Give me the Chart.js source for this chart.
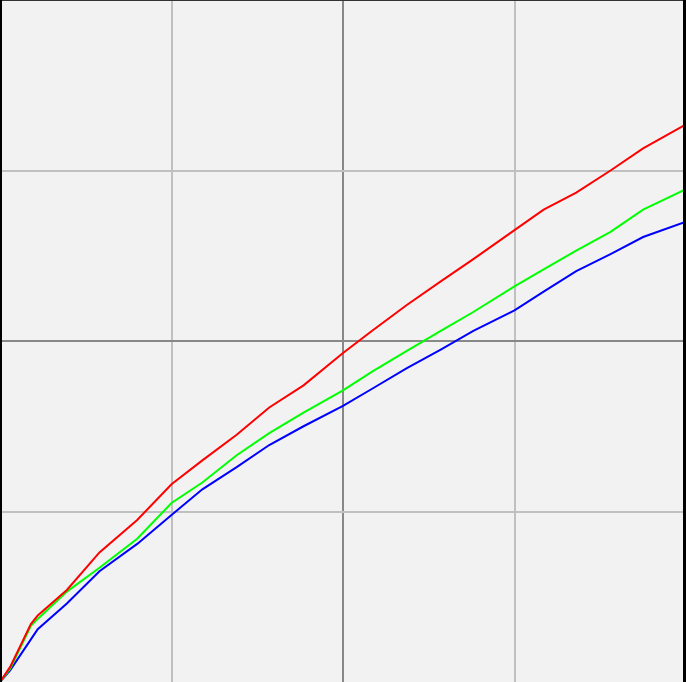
<!DOCTYPE html>
<html>
<head>
<meta charset="utf-8">
<script src="https://cdn.jsdelivr.net/npm/chart.js@4"></script>
<style>
  html, body { margin: 0; padding: 0; background: #f2f2f2; }
  #chart { display: block; }
</style>
</head>
<body>
<canvas id="chart" width="686" height="682"></canvas>
<script>
// shared x positions
const xs = [0, 0.06, 0.18, 0.22, 0.39, 0.58, 0.8, 1.0, 1.18, 1.38, 1.57, 1.77, 2.0, 2.17, 2.37, 2.57, 2.76, 3.0, 3.17, 3.36, 3.56, 3.75, 4.0];

// series values
const redVals   = [0, 0.09, 0.34, 0.39, 0.54, 0.76, 0.95, 1.16, 1.30, 1.45, 1.61, 1.74, 1.93, 2.06, 2.21, 2.35, 2.48, 2.65, 2.77, 2.87, 3.00, 3.13, 3.27];
const greenVals = [0, 0.08, 0.33, 0.37, 0.53, 0.67, 0.84, 1.05, 1.17, 1.33, 1.46, 1.58, 1.71, 1.82, 1.94, 2.06, 2.17, 2.32, 2.42, 2.53, 2.64, 2.77, 2.89];
const blueVals  = [0, 0.07, 0.25, 0.31, 0.46, 0.65, 0.81, 0.98, 1.13, 1.26, 1.39, 1.50, 1.62, 1.72, 1.84, 1.95, 2.06, 2.18, 2.29, 2.41, 2.51, 2.61, 2.70];

function toPoints(vals) {
  return vals.map((v, i) => ({ x: xs[i], y: v }));
}

function gridColor(ctx) {
  const v = ctx.tick ? ctx.tick.value : null;
  if (v === 2) return '#888888';
  if (v === 0 || v === 4) return 'rgba(0,0,0,0)';
  return '#c0c0c0';
}

// background and frame round the plot
const framePlugin = {
  id: 'frame',
  beforeDraw(chart) {
    const c = chart.ctx;
    c.save();
    c.fillStyle = '#f2f2f2';
    c.fillRect(0, 0, chart.width, chart.height);
    c.restore();
  },
  afterDraw(chart) {
    const c = chart.ctx;
    c.save();
    c.fillStyle = '#333333';
    c.fillRect(0, 0, chart.width, 1);
    c.fillStyle = '#000000';
    c.fillRect(0, 0, 2, chart.height);
    c.fillRect(chart.width - 3, 0, 3, chart.height);
    c.restore();
  }
};

const series = [
  { label: 'red', data: toPoints(redVals), color: '#ff0000' },
  { label: 'green', data: toPoints(greenVals), color: '#00ff00' },
  { label: 'blue', data: toPoints(blueVals), color: '#0000ff' }
];

const ctx = document.getElementById('chart').getContext('2d');
new Chart(ctx, {
  type: 'line',
  data: {
    datasets: series.map(s => ({
      label: s.label,
      data: s.data,
      borderColor: s.color,
      backgroundColor: s.color,
      borderWidth: 2,
      pointRadius: 0,
      tension: 0,
      fill: false
    }))
  },
  options: {
    responsive: false,
    animation: false,
    devicePixelRatio: 1,
    layout: { padding: 0 },
    plugins: { legend: { display: false }, tooltip: { enabled: false } },
    scales: {
      x: {
        type: 'linear',
        min: 0,
        max: 4,
        ticks: { display: false, stepSize: 1 },
        border: { display: false },
        grid: { color: gridColor, lineWidth: 2, drawTicks: false }
      },
      y: {
        type: 'linear',
        min: 0,
        max: 4,
        ticks: { display: false, stepSize: 1 },
        border: { display: false },
        grid: { color: gridColor, lineWidth: 2, drawTicks: false }
      }
    }
  },
  plugins: [framePlugin]
});
</script>
</body>
</html>
